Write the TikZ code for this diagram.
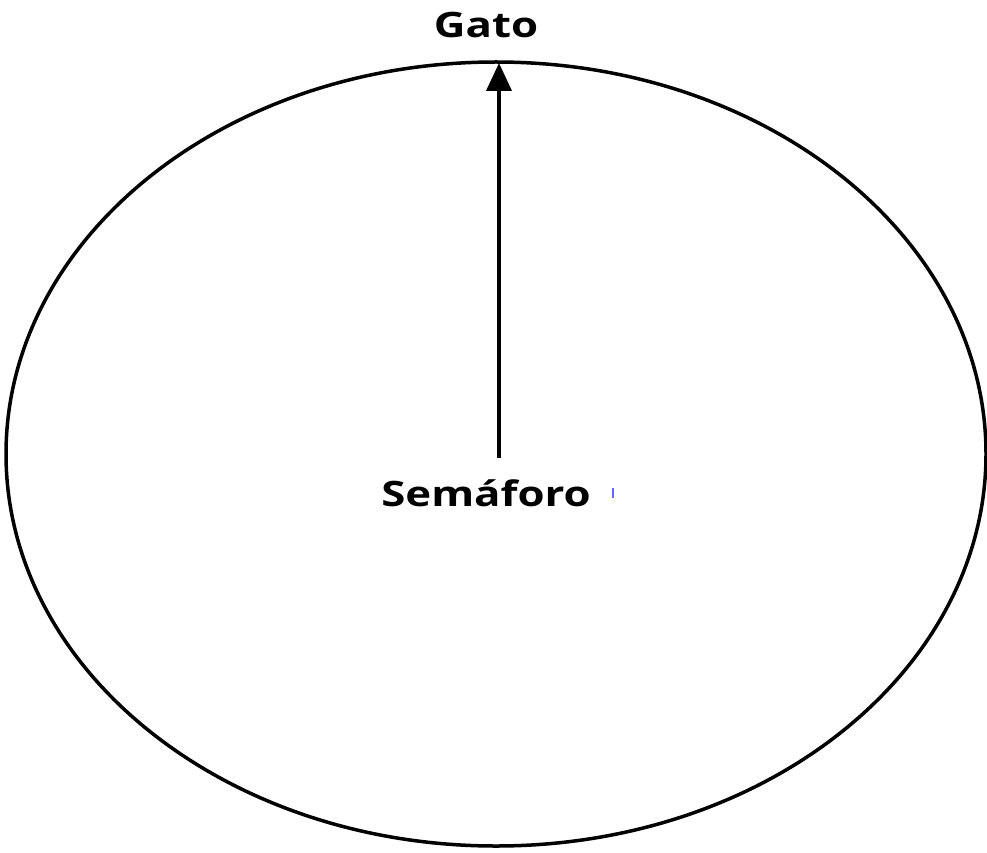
\documentclass[tikz,border=0pt]{standalone}
\usepackage{fontspec}
\setmainfont{Open Sans}[FakeStretch=1.25]
\usetikzlibrary{arrows.meta,shapes.geometric}
\tikzset{
  lbl/.style={font=\fontsize{35}{38}\selectfont\bfseries, inner sep=0pt, text=black},
  orbit/.style={draw=black, line width=3.5pt},
  pointer/.style={line width=4pt, -{Triangle[length=28pt,width=25pt]}}
}
\begin{document}
\begin{tikzpicture}[x=1pt,y=-1pt]
\useasboundingbox (0,0) rectangle (987,853);
\node[orbit, ellipse, minimum width=980pt, minimum height=784pt, inner sep=0pt] (orb) at (496,454) {};
\node[lbl] (gato) at (486,25) {Gato};
\node[lbl] (sem) at (486,493) {Semáforo};
\coordinate (base) at (499,458);
\coordinate (top) at (499,63);
\draw[pointer] (base) -- (top);
\coordinate (blip) at (613,493);
\draw[line width=1.5pt, draw=blue!60] ([yshift=-5pt]blip) -- ([yshift=5pt]blip);
\end{tikzpicture}
\end{document}
